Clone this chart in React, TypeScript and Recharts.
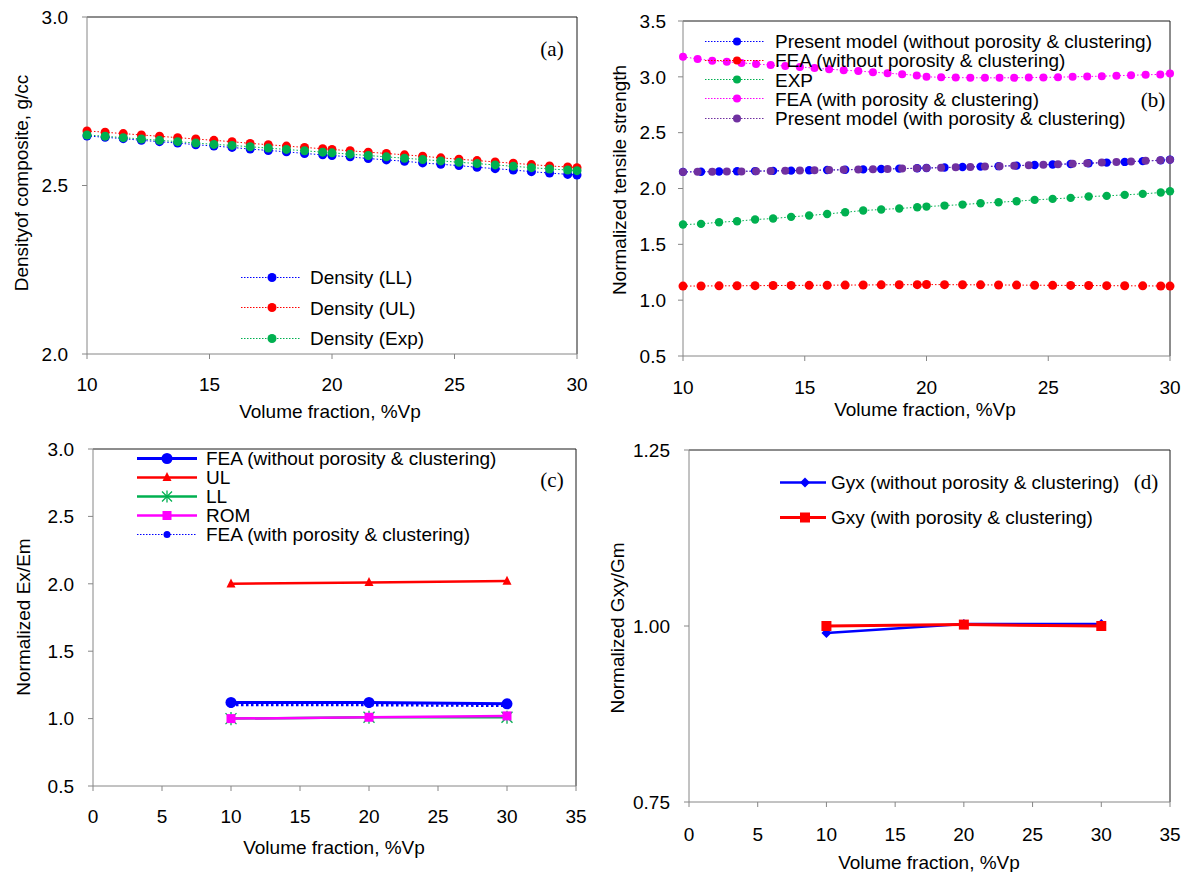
import React from 'react';
import { LineChart, Line, XAxis, YAxis, ReferenceLine } from 'recharts';

const FONT = '"Liberation Sans", Arial, sans-serif';
const SERIF = '"Liberation Serif", "Times New Roman", serif';

const BLUE = '#0000FF';
const RED = '#FF0000';
const GREEN = '#00B050';
const MAGENTA = '#FF00FF';
const PURPLE = '#7030A0';
const AXIS = '#868686';
const FRAME = '#1a1a1a';

// volume fraction grids (%Vp)
const vfGrid = [10, 10.74, 11.48, 12.22, 12.96, 13.7, 14.44, 15.18, 15.92, 16.66, 17.4, 18.14, 18.88, 19.62, 20,
  20.74, 21.48, 22.22, 22.96, 23.7, 24.44, 25.18, 25.92, 26.66, 27.4, 28.14, 28.88, 29.62, 30];
const vfGridFine = [10, 10.6, 11.2, 11.8, 12.4, 13, 13.6, 14.2, 14.8, 15.4, 16, 16.6, 17.2, 17.8, 18.4, 19, 19.6, 20,
  20.6, 21.2, 21.8, 22.4, 23, 23.6, 24.2, 24.8, 25.4, 26, 26.6, 27.2, 27.8, 28.4, 29, 29.6, 30];
const vfFem = [10, 20, 30];

// (a) density of composite, g/cc
const densityLL = [2.647, 2.643, 2.639, 2.634, 2.630, 2.626, 2.621, 2.617, 2.613, 2.608, 2.604, 2.600, 2.595, 2.591, 2.589,
  2.585, 2.580, 2.576, 2.572, 2.567, 2.563, 2.559, 2.554, 2.550, 2.546, 2.541, 2.537, 2.533, 2.531];
const densityUL = [2.662, 2.658, 2.654, 2.650, 2.646, 2.642, 2.638, 2.634, 2.630, 2.625, 2.621, 2.617, 2.613, 2.609, 2.607,
  2.603, 2.599, 2.595, 2.591, 2.587, 2.582, 2.578, 2.574, 2.570, 2.566, 2.562, 2.558, 2.555, 2.553];
const densityExp = [2.650, 2.646, 2.642, 2.638, 2.634, 2.630, 2.626, 2.622, 2.619, 2.615, 2.611, 2.607, 2.603, 2.599, 2.597,
  2.593, 2.589, 2.585, 2.581, 2.577, 2.573, 2.569, 2.565, 2.561, 2.557, 2.553, 2.549, 2.546, 2.544];

// (b) normalized tensile strength
const tsPresentWithout = [2.149, 2.150, 2.152, 2.154, 2.156, 2.158, 2.160, 2.163, 2.166, 2.168, 2.171, 2.174, 2.178, 2.181, 2.184,
  2.188, 2.192, 2.196, 2.200, 2.205, 2.210, 2.215, 2.220, 2.226, 2.232, 2.238, 2.245, 2.252, 2.259];
const tsFeaWithout = [1.126, 1.127, 1.128, 1.129, 1.130, 1.131, 1.132, 1.133, 1.134, 1.135, 1.136, 1.137, 1.138, 1.139, 1.140,
  1.139, 1.138, 1.137, 1.136, 1.135, 1.134, 1.133, 1.132, 1.131, 1.130, 1.129, 1.128, 1.127, 1.126];
const tsExp = [1.677, 1.683, 1.698, 1.707, 1.722, 1.731, 1.746, 1.758, 1.772, 1.787, 1.803, 1.812, 1.821, 1.832, 1.838,
  1.847, 1.856, 1.868, 1.877, 1.886, 1.898, 1.907, 1.916, 1.928, 1.934, 1.943, 1.952, 1.964, 1.976];
const tsFeaWith = [3.18, 3.16, 3.145, 3.135, 3.125, 3.115, 3.105, 3.097, 3.088, 3.078, 3.068, 3.06, 3.052, 3.042, 3.033, 3.023, 3.013,
  3.0, 2.996, 2.993, 2.992, 2.991, 2.991, 2.992, 2.993, 2.995, 2.997, 3.0, 3.003, 3.006, 3.01, 3.014, 3.018, 3.022, 3.03];
const tsPresentWith = [2.148, 2.149, 2.150, 2.152, 2.153, 2.155, 2.157, 2.159, 2.161, 2.163, 2.165, 2.168, 2.170, 2.173, 2.175, 2.178, 2.181,
  2.183, 2.186, 2.190, 2.193, 2.197, 2.200, 2.204, 2.208, 2.213, 2.217, 2.222, 2.227, 2.232, 2.237, 2.242, 2.248, 2.253, 2.257];

// (c) normalized Ex/Em
const exFeaWithout = [1.12, 1.12, 1.11];
const exUL = [2.0, 2.01, 2.02];
const exLL = [1.0, 1.01, 1.01];
const exROM = [1.0, 1.01, 1.02];
const exFeaWith = [1.1, 1.1, 1.095];

// (d) normalized Gxy/Gm
const gyxWithout = [0.99, 1.003, 1.003];
const gxyWith = [1.0, 1.002, 1.0];

const ticksA = [10, 15, 20, 25, 30];
const ticksC = [0, 5, 10, 15, 20, 25, 30, 35];

const pts = (xs: number[], ys: number[]) => xs.map((x, i) => ({ x, y: ys[i] }));

type Shape = 'circle' | 'square' | 'triangle' | 'diamond' | 'star';

const Marker = ({ shape, cx, cy, s, color }: { shape: Shape; cx: number; cy: number; s: number; color: string }) => {
  if (shape === 'square') return <rect x={cx - s} y={cy - s} width={s * 2} height={s * 2} fill={color} />;
  if (shape === 'triangle')
    return <polygon points={`${cx},${cy - s * 1.2} ${cx + s},${cy + s * 0.8} ${cx - s},${cy + s * 0.8}`} fill={color} />;
  if (shape === 'diamond')
    return <polygon points={`${cx},${cy - s} ${cx + s},${cy} ${cx},${cy + s} ${cx - s},${cy}`} fill={color} />;
  if (shape === 'star')
    return (
      <g stroke={color} strokeWidth={1.3}>
        <line x1={cx - s} y1={cy - s} x2={cx + s} y2={cy + s} />
        <line x1={cx - s} y1={cy + s} x2={cx + s} y2={cy - s} />
        <line x1={cx} y1={cy - s * 1.2} x2={cx} y2={cy + s * 1.2} />
      </g>
    );
  return <circle cx={cx} cy={cy} r={s} fill={color} />;
};

const dotOf = (shape: Shape, color: string, s: number) => (p: any) =>
  <Marker key={`m-${p.index}`} shape={shape} cx={p.cx} cy={p.cy} s={s} color={color} />;

const tickStyle = { fill: '#000', fontSize: 19, fontFamily: FONT };

type LegendItem = { name: string; color: string; shape: Shape; s: number; dashed?: boolean; width?: number };

const LegendBox = ({ left, top, step, lineLen, markAt, textGap, items }: {
  left: number; top: number; step: number; lineLen: number; markAt: number; textGap: number; items: LegendItem[];
}) => (
  <>
    {items.map((it, i) => (
      <div key={it.name} style={{
        position: 'absolute', left, top: top + i * step, transform: 'translateY(-50%)',
        display: 'flex', alignItems: 'center', whiteSpace: 'nowrap',
      }}>
        <svg width={lineLen} height={16} style={{ display: 'block' }}>
          <line x1={0} y1={8} x2={lineLen} y2={8} stroke={it.color} strokeWidth={it.width ?? 1}
            strokeDasharray={it.dashed ? '1.5 1.5' : undefined} />
          <Marker shape={it.shape} cx={markAt} cy={8} s={it.s} color={it.color} />
        </svg>
        <span style={{ marginLeft: textGap, fontFamily: FONT, fontSize: 19, lineHeight: 1, color: '#000' }}>{it.name}</span>
      </div>
    ))}
  </>
);

const XTitle = ({ x, y, text }: { x: number; y: number; text: string }) => (
  <div style={{ position: 'absolute', left: x, top: y, transform: 'translate(-50%, -50%)', whiteSpace: 'nowrap',
    fontFamily: FONT, fontSize: 19, lineHeight: 1, color: '#000' }}>{text}</div>
);

const YTitle = ({ x, y, text }: { x: number; y: number; text: string }) => (
  <div style={{ position: 'absolute', left: x, top: y, transform: 'translate(-50%, -50%) rotate(-90deg)', whiteSpace: 'nowrap',
    fontFamily: FONT, fontSize: 19, lineHeight: 1, color: '#000' }}>{text}</div>
);

const Tag = ({ x, y, text }: { x: number; y: number; text: string }) => (
  <div style={{ position: 'absolute', left: x, top: y, transform: 'translate(-50%, -50%)',
    fontFamily: SERIF, fontSize: 21, lineHeight: 1, color: '#000' }}>{text}</div>
);

const place = (left: number, top: number): React.CSSProperties => ({ position: 'absolute', left, top });

const dotted = { strokeWidth: 1, strokeDasharray: '1.5 2' };

export default function App() {
  return (
    <div style={{ position: 'absolute', left: 0, top: 0, width: 1193, height: 872, background: '#fff', overflow: 'hidden' }}>
      {/* (a) density */}
      <div style={place(0, 0)}>
        <LineChart width={600} height={430} margin={{ top: 17, right: 23, bottom: 0, left: 0 }}>
          <XAxis dataKey="x" type="number" domain={[10, 30]} ticks={ticksA} height={76} tick={tickStyle}
            stroke={AXIS} tickSize={5} tickMargin={19} />
          <YAxis type="number" domain={[2, 3]} ticks={[2, 2.5, 3]} width={87} tick={tickStyle} stroke={AXIS}
            tickSize={5} tickMargin={14} tickFormatter={(v: number) => v.toFixed(1)} />
          <ReferenceLine y={3} stroke={FRAME} />
          <ReferenceLine x={30} stroke={FRAME} />
          <Line data={pts(vfGrid, densityUL)} dataKey="y" stroke={RED} {...dotted} dot={dotOf('circle', RED, 4.5)}
            activeDot={false} isAnimationActive={false} />
          <Line data={pts(vfGrid, densityLL)} dataKey="y" stroke={BLUE} {...dotted} dot={dotOf('circle', BLUE, 4.5)}
            activeDot={false} isAnimationActive={false} />
          <Line data={pts(vfGrid, densityExp)} dataKey="y" stroke={GREEN} {...dotted} dot={dotOf('circle', GREEN, 4.5)}
            activeDot={false} isAnimationActive={false} />
        </LineChart>
      </div>
      <LegendBox left={241} top={277} step={30.5} lineLen={60} markAt={31} textGap={9} items={[
        { name: 'Density (LL)', color: BLUE, shape: 'circle', s: 4.5, dashed: true },
        { name: 'Density (UL)', color: RED, shape: 'circle', s: 4.5, dashed: true },
        { name: 'Density (Exp)', color: GREEN, shape: 'circle', s: 4.5, dashed: true },
      ]} />
      <Tag x={552} y={49} text="(a)" />
      <YTitle x={21} y={183} text="Densityof composite, g/cc" />
      <XTitle x={330} y={411} text="Volume fraction, %Vp" />

      {/* (b) tensile strength */}
      <div style={place(600, 0)}>
        <LineChart width={593} height={430} margin={{ top: 21, right: 23, bottom: 0, left: 0 }}>
          <XAxis dataKey="x" type="number" domain={[10, 30]} ticks={ticksA} height={74} tick={tickStyle}
            stroke={AXIS} tickSize={5} tickMargin={20} />
          <YAxis type="number" domain={[0.5, 3.5]} ticks={[0.5, 1, 1.5, 2, 2.5, 3, 3.5]} width={83} tick={tickStyle}
            stroke={AXIS} tickSize={5} tickMargin={12} tickFormatter={(v: number) => v.toFixed(1)} />
          <ReferenceLine y={3.5} stroke={FRAME} />
          <ReferenceLine x={30} stroke={FRAME} />
          <Line data={pts(vfGrid, tsPresentWithout)} dataKey="y" stroke={BLUE} {...dotted} dot={dotOf('circle', BLUE, 4.2)}
            activeDot={false} isAnimationActive={false} />
          <Line data={pts(vfGrid, tsFeaWithout)} dataKey="y" stroke={RED} {...dotted} dot={dotOf('circle', RED, 4.5)}
            activeDot={false} isAnimationActive={false} />
          <Line data={pts(vfGrid, tsExp)} dataKey="y" stroke={GREEN} {...dotted} dot={dotOf('circle', GREEN, 4.2)}
            activeDot={false} isAnimationActive={false} />
          <Line data={pts(vfGridFine, tsFeaWith)} dataKey="y" stroke={MAGENTA} {...dotted} dot={dotOf('circle', MAGENTA, 4)}
            activeDot={false} isAnimationActive={false} />
          <Line data={pts(vfGridFine, tsPresentWith)} dataKey="y" stroke={PURPLE} {...dotted} dot={dotOf('circle', PURPLE, 4)}
            activeDot={false} isAnimationActive={false} />
        </LineChart>
      </div>
      <LegendBox left={705} top={41} step={19.3} lineLen={60} markAt={32} textGap={10} items={[
        { name: 'Present model (without porosity & clustering)', color: BLUE, shape: 'circle', s: 4, dashed: true },
        { name: 'FEA (without porosity & clustering)', color: RED, shape: 'circle', s: 4, dashed: true },
        { name: 'EXP', color: GREEN, shape: 'circle', s: 4, dashed: true },
        { name: 'FEA (with porosity & clustering)', color: MAGENTA, shape: 'circle', s: 4, dashed: true },
        { name: 'Present model (with porosity & clustering)', color: PURPLE, shape: 'circle', s: 4, dashed: true },
      ]} />
      <Tag x={1153} y={100} text="(b)" />
      <YTitle x={619} y={180} text="Normalized tensile strength" />
      <XTitle x={925} y={409} text="Volume fraction, %Vp" />

      {/* (c) normalized Ex/Em */}
      <div style={place(0, 430)}>
        <LineChart width={600} height={442} margin={{ top: 19, right: 24, bottom: 0, left: 0 }}>
          <XAxis dataKey="x" type="number" domain={[0, 35]} ticks={ticksC} height={86} tick={tickStyle}
            stroke={AXIS} tickSize={5} tickMargin={19} />
          <YAxis type="number" domain={[0.5, 3]} ticks={[0.5, 1, 1.5, 2, 2.5, 3]} width={93} tick={tickStyle}
            stroke={AXIS} tickSize={5} tickMargin={14} tickFormatter={(v: number) => v.toFixed(1)} />
          <ReferenceLine y={3} stroke={FRAME} />
          <ReferenceLine x={35} stroke={FRAME} />
          <Line data={pts(vfFem, exFeaWithout)} dataKey="y" stroke={BLUE} strokeWidth={3} dot={dotOf('circle', BLUE, 5.5)}
            activeDot={false} isAnimationActive={false} />
          <Line data={pts(vfFem, exUL)} dataKey="y" stroke={RED} strokeWidth={2.5} dot={dotOf('triangle', RED, 4.5)}
            activeDot={false} isAnimationActive={false} />
          <Line data={pts(vfFem, exLL)} dataKey="y" stroke={GREEN} strokeWidth={2.5} dot={dotOf('star', GREEN, 5.5)}
            activeDot={false} isAnimationActive={false} />
          <Line data={pts(vfFem, exROM)} dataKey="y" stroke={MAGENTA} strokeWidth={2.5} dot={dotOf('square', MAGENTA, 4.5)}
            activeDot={false} isAnimationActive={false} />
          <Line data={pts(vfFem, exFeaWith)} dataKey="y" stroke={BLUE} strokeWidth={2.5} strokeDasharray="2.5 2.5"
            dot={dotOf('circle', BLUE, 3)} activeDot={false} isAnimationActive={false} />
        </LineChart>
      </div>
      <LegendBox left={137} top={458} step={19} lineLen={60} markAt={30} textGap={9} items={[
        { name: 'FEA (without porosity & clustering)', color: BLUE, shape: 'circle', s: 5.5, width: 3 },
        { name: 'UL', color: RED, shape: 'triangle', s: 4.5, width: 2.5 },
        { name: 'LL', color: GREEN, shape: 'star', s: 5, width: 2.5 },
        { name: 'ROM', color: MAGENTA, shape: 'square', s: 4.5, width: 2.5 },
        { name: 'FEA (with porosity & clustering)', color: BLUE, shape: 'circle', s: 3.5, dashed: true },
      ]} />
      <Tag x={552} y={480} text="(c)" />
      <YTitle x={23} y={617} text="Normalized Ex/Em" />
      <XTitle x={334} y={847} text="Volume fraction, %Vp" />

      {/* (d) normalized Gxy/Gm */}
      <div style={place(600, 430)}>
        <LineChart width={593} height={442} margin={{ top: 20, right: 23, bottom: 0, left: 0 }}>
          <XAxis dataKey="x" type="number" domain={[0, 35]} ticks={ticksC} height={70} tick={tickStyle}
            stroke={AXIS} tickSize={5} tickMargin={21} />
          <YAxis type="number" domain={[0.75, 1.25]} ticks={[0.75, 1, 1.25]} width={89} tick={tickStyle}
            stroke={AXIS} tickSize={5} tickMargin={14} tickFormatter={(v: number) => v.toFixed(2)} />
          <ReferenceLine y={1.25} stroke={FRAME} />
          <ReferenceLine x={35} stroke={FRAME} />
          <Line data={pts(vfFem, gyxWithout)} dataKey="y" stroke={BLUE} strokeWidth={2.5} dot={dotOf('diamond', BLUE, 5)}
            activeDot={false} isAnimationActive={false} />
          <Line data={pts(vfFem, gxyWith)} dataKey="y" stroke={RED} strokeWidth={3} dot={dotOf('square', RED, 5)}
            activeDot={false} isAnimationActive={false} />
        </LineChart>
      </div>
      <LegendBox left={780} top={482} step={35} lineLen={46} markAt={25} textGap={5} items={[
        { name: 'Gyx (without porosity & clustering)', color: BLUE, shape: 'diamond', s: 5, width: 2.5 },
        { name: 'Gxy (with porosity & clustering)', color: RED, shape: 'square', s: 5, width: 3 },
      ]} />
      <Tag x={1146} y={482} text="(d)" />
      <YTitle x={617} y={628} text="Normalized Gxy/Gm" />
      <XTitle x={929} y={862} text="Volume fraction, %Vp" />
    </div>
  );
}
